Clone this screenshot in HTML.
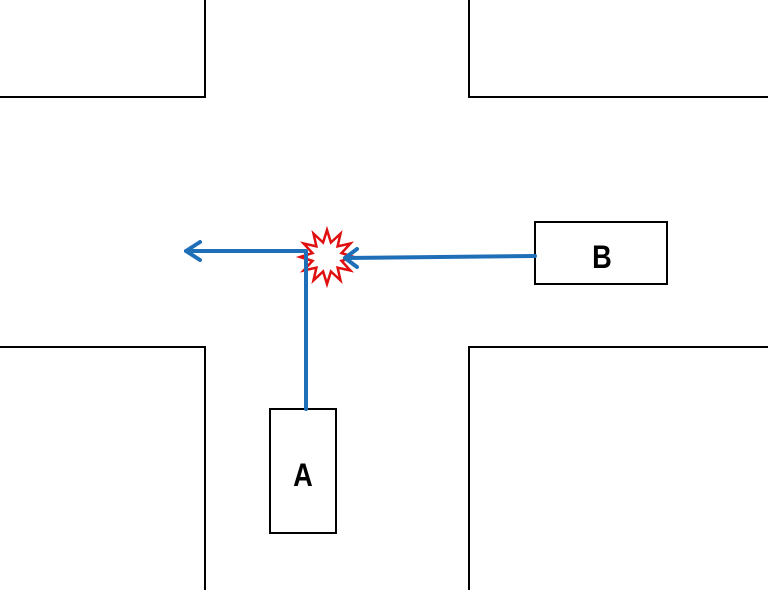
<!DOCTYPE html>
<html><head><meta charset="utf-8"><style>
html,body{margin:0;padding:0;background:#fff;width:768px;height:590px;overflow:hidden}
</style></head><body>
<svg width="768" height="590" viewBox="0 0 768 590" xmlns="http://www.w3.org/2000/svg">
<g fill="none" stroke="#000" stroke-width="2">
<polyline points="205,0 205,97 0,97"/>
<polyline points="469,0 469,97 768,97"/>
<polyline points="0,347 205,347 205,590"/>
<polyline points="768,347 469,347 469,590"/>
<rect x="270" y="409" width="66" height="124"/>
<rect x="535" y="222" width="132" height="62"/>
</g>
<polygon fill="#fff" stroke="#e01010" stroke-width="2.5" points="354,257 341.5,260.9 350.4,270.5 337.6,267.6 340.5,280.4 330.9,271.5 327,284 323.1,271.5 313.5,280.4 316.4,267.6 303.6,270.5 312.5,260.9 300,257 312.5,253.1 303.6,243.5 316.4,246.4 313.5,233.6 323.1,242.5 327,230 330.9,242.5 340.5,233.6 337.6,246.4 350.4,243.5 341.5,253.1"/>
<g fill="none" stroke="#1f6fb8" stroke-width="4" stroke-linecap="round" stroke-linejoin="round">
<polyline points="306,409 306,251 186,251"/>
<polyline points="200,242 186,251 200,260"/>
<line x1="535" y1="256" x2="345" y2="258"/>
<polyline points="357,249 345,258 357,267"/>
</g>
<text x="0" y="0" font-family="Liberation Sans, sans-serif" font-weight="bold" font-size="32" text-anchor="middle" transform="translate(303,486) scale(0.85,1)">A</text>
<text x="0" y="0" font-family="Liberation Sans, sans-serif" font-weight="bold" font-size="32" text-anchor="middle" transform="translate(602,268) scale(0.85,1)">B</text>
</svg>
</body></html>
